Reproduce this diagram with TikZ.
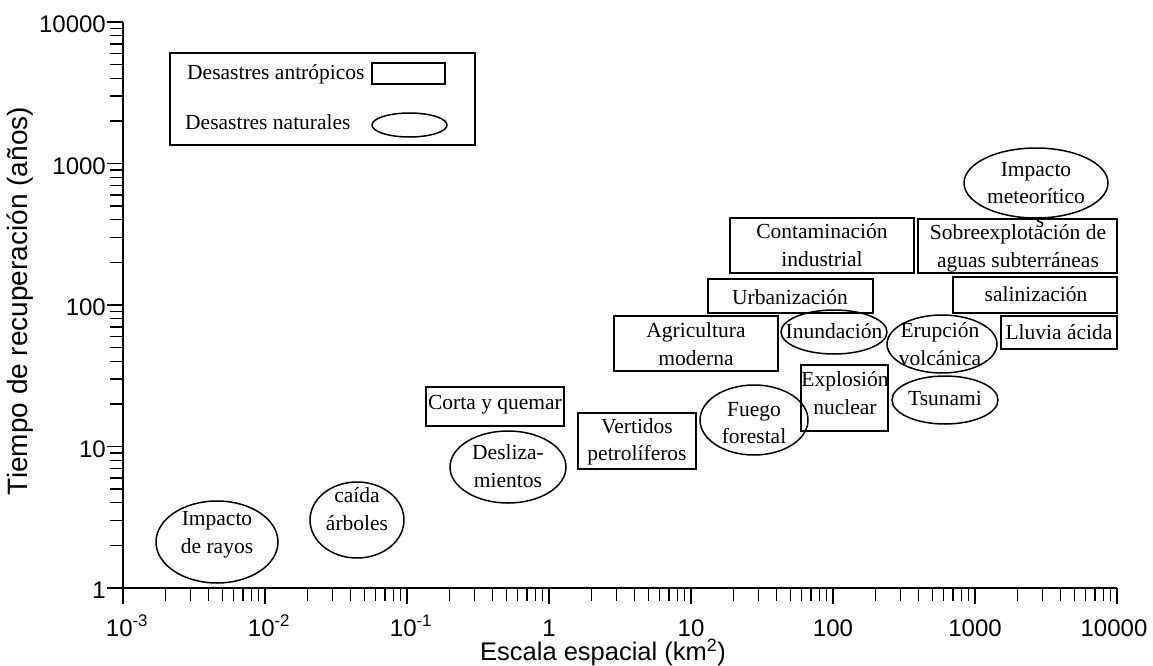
\documentclass[tikz,border=0pt]{standalone}
\usepackage{fontspec}
\setmainfont{Liberation Serif}
\setsansfont{Liberation Sans}
\usetikzlibrary{shapes.geometric}
\newcommand{\dgboxfont}{\fontsize{21.5}{27.5}\selectfont}
\newcommand{\dgtickfont}{\sffamily\fontsize{24}{28}\selectfont}
\newcommand{\dgxtitlefont}{\sffamily\fontsize{25.5}{30}\selectfont}
\newcommand{\dgytitlefont}{\sffamily\fontsize{28}{30}\selectfont}

\begin{document}
\begin{tikzpicture}[x=1pt,y=-1pt,
  frame/.style={draw, line width=1.5pt, inner sep=0pt},
  blob/.style={draw, ellipse, line width=1.5pt, inner sep=0pt},
  lbl/.style={align=center, font=\dgboxfont, inner sep=0pt},
  axisline/.style={line width=1.8pt},
  tickline/.style={line width=1.3pt},
  ticklbl/.style={font=\dgtickfont, inner sep=0pt},
]
\useasboundingbox (0,0) rectangle (1153,666);

% axes
\draw[axisline] (123,22) -- (123,588) -- (1117,588);

% x ticks: one decade = 142 units, 10^-3 at x = 123
\foreach \d in {0,...,7} \draw[tickline] ({123+142*\d},588) -- ++(0,16);
\foreach \d in {0,...,6} {
  \foreach \m in {2,...,9} \draw[tickline] ({123+142*(\d+log10(\m))},588) -- ++(0,13);
}
% y ticks: one decade = 141.5 units, 1 at y = 588
\foreach \d in {0,...,4} \draw[tickline] (123,{588-141.5*\d}) -- ++(-16,0);
\foreach \d in {0,...,3} {
  \foreach \m in {2,...,9} \draw[tickline] (123,{588-141.5*(\d+log10(\m))}) -- ++(-13,0);
}

% tick labels
\node[ticklbl, anchor=base] (xl0) at (127,636) {10\textsuperscript{-3}};
\node[ticklbl, anchor=base] (xl1) at (269,636) {10\textsuperscript{-2}};
\node[ticklbl, anchor=base] (xl2) at (411,636) {10\textsuperscript{-1}};
\node[ticklbl, anchor=base] (xl3) at (549,636) {1};
\node[ticklbl, anchor=base] (xl4) at (691,636) {10};
\node[ticklbl, anchor=base] (xl5) at (833,636) {100};
\node[ticklbl, anchor=base] (xl6) at (975,636) {1000};
\node[ticklbl, anchor=base] (xl7) at (1114,636) {10000};

\node[ticklbl, anchor=east] (yl0) at (106,590) {1};
\node[ticklbl, anchor=east] (yl1) at (106,449) {10};
\node[ticklbl, anchor=east] (yl2) at (106,307) {100};
\node[ticklbl, anchor=east] (yl3) at (106,166) {1000};
\node[ticklbl, anchor=east] (yl4) at (106,24) {10000};

% axis titles
\node[font=\dgxtitlefont, anchor=base, inner sep=0pt] (xtitle) at (603,660.5) {Escala espacial (km\textsuperscript{2})};
\node[font=\dgytitlefont, rotate=90, inner sep=0pt] (ytitle) at (20,301) {Tiempo de recuperación (años)};

% legend
\node[frame, minimum width=305pt, minimum height=92pt] (legend) at (322.5,99) {};
\node[lbl, anchor=west] (leg-a) at (187,74) {Desastres antrópicos};
\node[frame, minimum width=73pt, minimum height=21pt] (leg-rect) at (408.5,73.5) {};
\node[lbl, anchor=west] (leg-n) at (185,122) {Desastres naturales};
\node[blob, minimum width=75pt, minimum height=24pt] (leg-ell) at (409.5,125) {};

% human-caused disasters (rectangles)
\node[frame, minimum width=184pt, minimum height=55pt] (cont) at (822,245.5) {};
\node[lbl] (cont-t) at (822,245) {Contaminación\\industrial};
\node[frame, minimum width=199pt, minimum height=54pt] (sobre) at (1017.5,246) {};
\node[lbl] (sobre-t) at (1018,248.5) {Sobreexplotación de\\aguas subterráneas};
\node[frame, minimum width=165pt, minimum height=34pt] (urb) at (790.5,296) {};
\node[lbl] (urb-t) at (790,297) {Urbanización};
\node[frame, minimum width=164pt, minimum height=36pt] (sal) at (1035,295) {};
\node[lbl] (sal-t) at (1036,294) {salinización};
\node[frame, minimum width=116pt, minimum height=33pt] (lluvia) at (1059,332.5) {};
\node[lbl] (lluvia-t) at (1059,332) {Lluvia ácida};
\node[frame, minimum width=164pt, minimum height=55pt] (agri) at (696,343.5) {};
\node[lbl] (agri-t) at (696,344) {Agricultura\\moderna};
\node[frame, minimum width=138pt, minimum height=39pt] (corta) at (495,406.5) {};
\node[lbl] (corta-t) at (495,405) {Corta y quemar};
\node[frame, minimum width=118pt, minimum height=56pt] (vert) at (637,441) {};
\node[lbl] (vert-t) at (637,442) {Vertidos\\petrolíferos};
\node[frame, minimum width=87pt, minimum height=66pt] (expl) at (844.5,398) {};
\node[lbl] (expl-t) at (845,393) {Explosión\\nuclear};

% natural disasters (ellipses)
\node[blob, minimum width=144pt, minimum height=70pt] (meteor) at (1036,183) {};
\node[lbl] (meteor-t) at (1036,183) {Impacto\\meteorítico};
\node[lbl, anchor=base] (meteor-s) at (1040,227) {s};
\node[blob, minimum width=106pt, minimum height=44pt] (inund) at (834,332) {};
\node[lbl] (inund-t) at (834,331) {Inundación};
\node[blob, minimum width=110pt, minimum height=58pt] (erup) at (942,344) {};
\node[lbl] (erup-t) at (940,344) {Erupción\\volcánica};
\node[blob, minimum width=106pt, minimum height=48pt] (tsun) at (945,400) {};
\node[lbl] (tsun-t) at (945,398) {Tsunami};
\node[blob, minimum width=108pt, minimum height=70pt] (fuego) at (754,420) {};
\node[lbl] (fuego-t) at (754,423) {Fuego\\forestal};
\node[blob, minimum width=116pt, minimum height=72pt] (desl) at (508,467) {};
\node[lbl] (desl-t) at (508,466) {Desliza-\\mientos};
\node[blob, minimum width=94pt, minimum height=76pt] (caida) at (357,520) {};
\node[lbl] (caida-t) at (357,509) {caída\\árboles};
\node[blob, minimum width=122pt, minimum height=82pt] (rayos) at (217,542) {};
\node[lbl] (rayos-t) at (217,535) {Impacto\\de rayos};
\end{tikzpicture}
\end{document}
